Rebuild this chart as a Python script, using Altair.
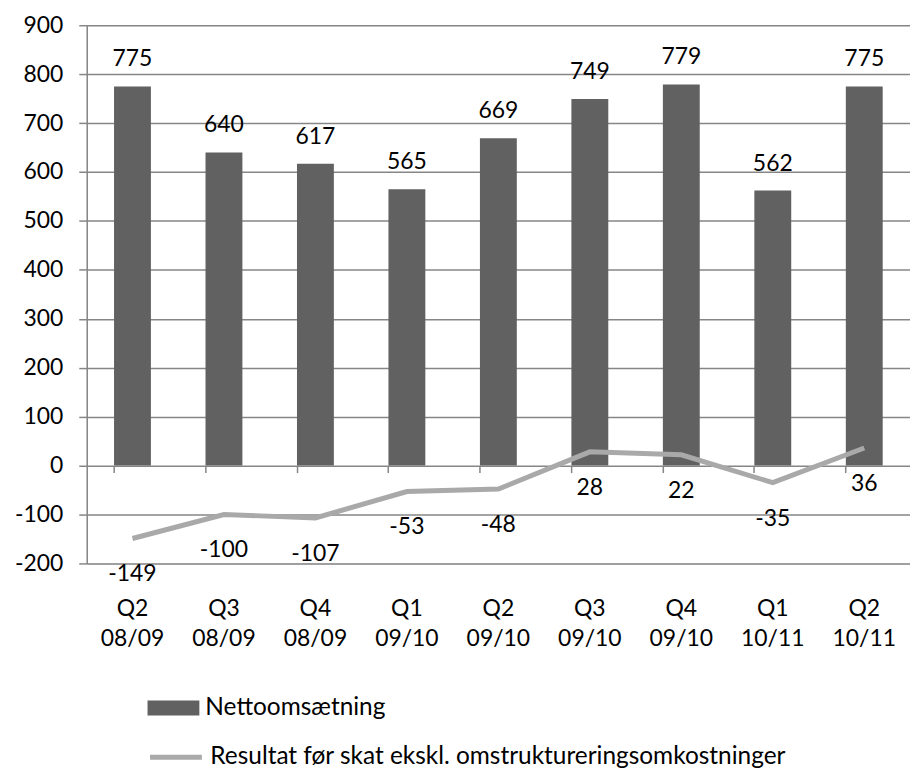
import altair as alt
import pandas as pd

quarters = ["Q2 08/09", "Q3 08/09", "Q4 08/09", "Q1 09/10", "Q2 09/10",
            "Q3 09/10", "Q4 09/10", "Q1 10/11", "Q2 10/11"]
revenue = [775, 640, 617, 565, 669, 749, 779, 562, 775]
result = [-149, -100, -107, -53, -48, 28, 22, -35, 36]
y_ticks = [-200, -100, 0, 100, 200, 300, 400, 500, 600, 700, 800, 900]

bar_name = "Nettoomsætning"
line_name = "Resultat før skat ekskl. omstruktureringsomkostninger"

df = pd.DataFrame({
    "q": quarters,
    "rev": revenue,
    "res": result,
    "rev_t": [str(v) for v in revenue],
    "res_t": [str(v) for v in result],
    "bar_s": [bar_name] * len(quarters),
    "line_s": [line_name] * len(quarters),
})

FONT = "Lato"
FS = 23
LFS = 24.5
W, H = 826, 540
GRID = "#868686"

y_scale = alt.Scale(domain=[-200, 900], nice=False, zero=False)
x_scale = alt.Scale(paddingInner=0.6, paddingOuter=0.3)

x_enc_ticks = alt.X(
    "q:N", sort=quarters, title=None, scale=x_scale,
    axis=alt.Axis(orient="bottom", domain=False, ticks=True, labels=False,
                  bandPosition=0, tickSize=7, tickColor=GRID, tickWidth=1.5,
                  offset=-(200 * H / 1100), grid=False),
)
x_enc_labels = alt.X(
    "q:N", sort=quarters, title=None,
    axis=alt.Axis(orient="bottom", domain=False, ticks=False, labels=True,
                  labelExpr="split(datum.label, ' ')", labelLineHeight=30,
                  labelPadding=34, labelFont=FONT, labelFontSize=FS,
                  labelColor="black", labelAngle=0, grid=False),
)
x_plain = alt.X("q:N", sort=quarters, axis=None)

y_axis = alt.Axis(values=y_ticks, title=None, grid=True, gridColor=GRID,
                  gridWidth=1.5, domain=True, domainColor=GRID, domainWidth=1.5,
                  ticks=True, tickSize=8, tickColor=GRID, tickWidth=1.5,
                  labelPadding=16, labelFont=FONT, labelFontSize=FS,
                  labelColor="black", labelExpr="'' + datum.value")

bars = alt.Chart(df).mark_bar(size=37).encode(
    x=x_enc_ticks,
    y=alt.Y("rev:Q", scale=y_scale, axis=y_axis),
    fill=alt.Fill("bar_s:N", scale=alt.Scale(range=["#616161"]),
                  legend=alt.Legend(title=None, orient="none", legendX=61,
                                    legendY=659,
                                    symbolType="M-1,-0.29H1V0.29H-1Z",
                                    symbolSize=2704, symbolStrokeWidth=0,
                                    labelFont=FONT, labelFontSize=LFS,
                                    labelColor="black", labelOffset=6,
                                    labelLimit=800, padding=0)),
)

bar_labels = alt.Chart(df).mark_text(font=FONT, fontSize=FS, color="black",
                                     baseline="middle", dy=-27).encode(
    x=x_plain,
    y=alt.Y("rev:Q", scale=y_scale),
    text="rev_t:N",
)

line = alt.Chart(df).mark_line(strokeWidth=5).encode(
    x=x_enc_labels,
    y=alt.Y("res:Q", scale=y_scale),
    stroke=alt.Stroke("line_s:N", scale=alt.Scale(range=["#a9a9a9"]),
                      legend=alt.Legend(title=None, orient="none", legendX=61,
                                        legendY=706, symbolType="stroke",
                                        symbolSize=2704, symbolStrokeWidth=5,
                                        labelFont=FONT, labelFontSize=LFS,
                                        labelColor="black", labelOffset=6,
                                        labelLimit=800, padding=0)),
)

line_labels = alt.Chart(df).mark_text(font=FONT, fontSize=FS, color="black",
                                      baseline="middle", dy=36).encode(
    x=x_plain,
    y=alt.Y("res:Q", scale=y_scale),
    text="res_t:N",
)

chart = alt.layer(bars, bar_labels, line, line_labels).resolve_axis(
    x="independent"
).resolve_legend(fill="independent", stroke="independent").properties(
    width=W, height=H,
    autosize=alt.AutoSizeParams(type="none"),
    padding={"left": 79, "top": 16, "right": 0, "bottom": 212},
).configure_view(stroke=None).configure(background="white")

chart.save("out.html", embed_options={"renderer": "svg", "actions": False})
